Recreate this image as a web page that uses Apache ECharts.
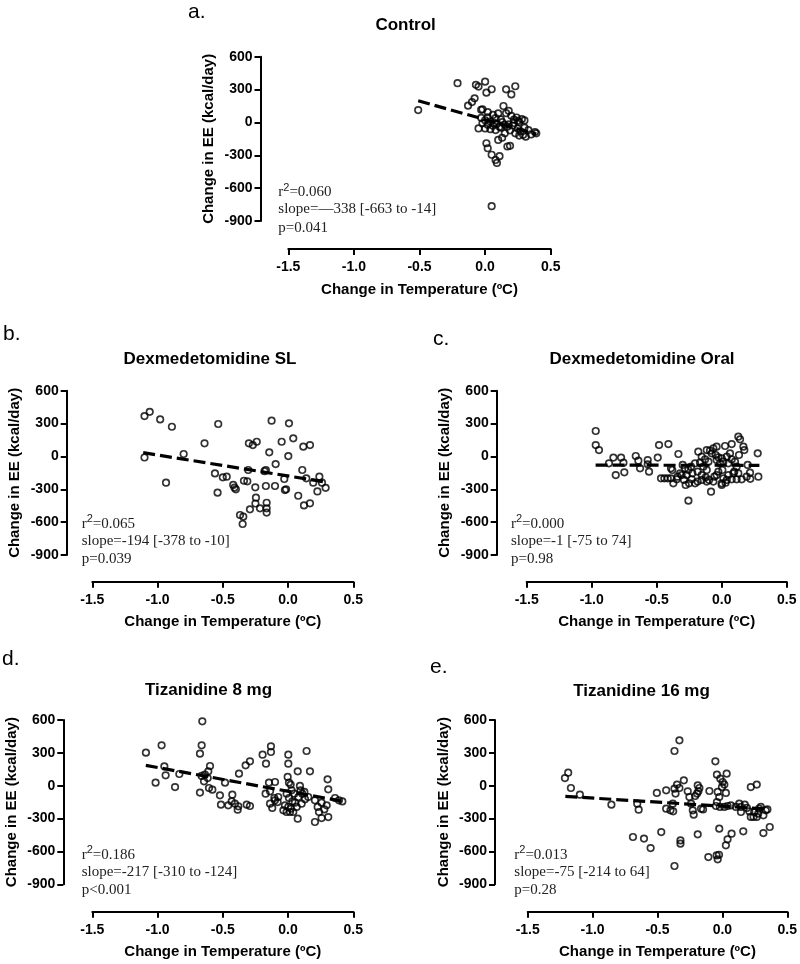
<!DOCTYPE html>
<html><head><meta charset="utf-8">
<script src="https://cdn.jsdelivr.net/npm/echarts@6/dist/echarts.min.js"></script>
<style>html,body{margin:0;padding:0;background:#fff}#c{width:800px;height:964px}</style>
</head><body><div id="c"></div>
<script>
// ---------- data ----------
const panelLetters = ['a.', 'b.', 'c.', 'd.', 'e.'];
const panelTitles = ['Control', 'Dexmedetomidine SL', 'Dexmedetomidine Oral', 'Tizanidine 8 mg', 'Tizanidine 16 mg'];
const xAxisTitle = 'Change in Temperature (ºC)';
const yAxisTitle = 'Change in EE (kcal/day)';
const xTickValues = [-1.5, -1.0, -0.5, 0.0, 0.5];
const yTickValues = [-900, -600, -300, 0, 300, 600];
const r2Values = ['0.060', '0.065', '0.000', '0.186', '0.013'];
const slopeTexts = ['slope=\u2014338 [-663 to -14]', 'slope=-194 [-378 to -10]', 'slope=-1 [-75 to 74]', 'slope=-217 [-310 to -124]', 'slope=-75 [-214 to 64]'];
const pTexts = ['p=0.041', 'p=0.039', 'p=0.98', 'p<0.001', 'p=0.28'];

const controlPts = [
[-0.51,113],[-0.21,358],[-0.07,343],[-0.05,327],[0.00,372],[0.01,272],[0.05,303],[0.16,302],[0.23,330],[0.20,256],
[-0.08,220],[-0.10,186],[-0.13,153],[-0.03,115],[-0.02,120],[0.14,150],[0.18,106],[0.02,94],[0.10,82],[0.20,60],
[0.24,45],[0.28,30],[0.30,18],[0.26,4],[0.22,-5],[0.06,68],[0.08,40],[0.12,28],[0.00,20],[-0.02,-8],
[0.02,-22],[0.04,8],[0.06,-30],[0.09,-14],[0.11,-40],[0.13,2],[0.15,-22],[-0.05,-55],[0.00,-55],[0.04,-62],
[0.08,-70],[0.12,-48],[0.17,-40],[0.19,-72],[0.21,-28],[0.25,-58],[0.27,-82],[0.29,-112],[0.31,-130],[0.30,-48],
[0.26,-120],[0.23,-100],[0.18,-18],[0.38,-88],[0.39,-100],[0.01,-190],[0.02,-236],[0.05,-295],[0.08,-343],[0.09,-370],
[0.11,-308],[0.10,-160],[0.13,-140],[0.17,-220],[0.19,-214],[0.05,-765],[-0.03,42],[0.02,46],[0.16,84],[0.25,15],
[0.33,-70],[0.07,-5],[0.15,-100],[0.35,-110],[0.22,25]
];
const dexSLPts = [
[-1.10,-10],[-1.10,368],[-1.06,407],[-0.98,338],[-0.89,271],[-0.80,22],[-0.935,-240],[-0.64,120],[-0.535,296],[-0.56,-155],
[-0.54,-331],[-0.50,-191],[-0.47,-185],[-0.42,-260],[-0.41,-285],[-0.40,-300],[-0.338,-222],[-0.312,-227],[-0.368,-535],[-0.343,-550],
[-0.348,-617],[-0.30,120],[-0.27,104],[-0.24,134],[-0.292,-483],[-0.251,-282],[-0.246,-377],[-0.25,-430],[-0.215,-474],[-0.305,-124],
[-0.17,-124],[-0.18,-135],[-0.17,-270],[-0.164,-423],[-0.164,-474],[-0.164,-513],[-0.126,326],[-0.10,-270],[-0.144,37],[-0.095,-70],
[-0.049,134],[0.007,302],[0.04,165],[0.002,3],[-0.029,-206],[-0.024,-307],[-0.015,-300],[0.078,-359],[0.109,-124],[0.117,89],
[0.168,104],[0.14,-200],[0.122,-447],[0.168,-428],[0.193,-240],[0.24,-185],[0.225,-320],[0.288,-287],[0.26,-240]
];
const dexOralPts = [
[-0.969,232],[-0.969,104],[-0.944,58],[-0.867,-63],[-0.833,-11],[-0.815,-170],[-0.774,-11],[-0.756,-57],[-0.749,-145],[-0.661,4],
[-0.641,-39],[-0.628,-109],[-0.569,-33],[-0.569,-72],[-0.559,-139],[-0.492,-11],[-0.482,104],[-0.41,113],[-0.467,-200],[-0.441,-200],
[-0.415,-200],[-0.39,-200],[-0.333,22],[-0.38,-124],[-0.339,-185],[-0.372,-246],[-0.308,-170],[-0.29,-215],[-0.269,-170],[-0.251,-246],
[-0.277,-261],[-0.231,-209],[-0.205,-246],[-0.256,-404],[-0.30,-78],[-0.236,-94],[-0.18,43],[-0.205,-63],[-0.167,-57],[-0.141,-94],
[-0.115,-124],[-0.185,-139],[-0.154,-170],[-0.123,-191],[-0.097,-215],[-0.064,-230],[-0.082,-322],[-0.115,58],[-0.09,52],[-0.064,74],
[-0.039,89],[0.026,95],[0.077,113],[-0.077,28],[-0.046,13],[-0.026,-8],[0.0,-17],[0.039,-2],[0.064,28],[-0.039,-33],
[-0.013,-63],[0.013,-48],[0.051,-63],[0.077,-27],[0.102,-48],[0.115,-94],[0.097,-139],[0.128,-154],[0.128,180],[0.141,156],
[0.167,89],[0.174,58],[0.133,13],[0.013,-200],[0.039,-215],[0.077,-209],[0.115,-209],[0.154,-209],[0.0,-246],[0.051,-170],
[0.09,-154],[0.2,-78],[0.218,-148],[0.192,-185],[0.277,28],[0.282,-185],[-0.154,-2],[-0.128,-27],[-0.102,-48],[-0.282,-109],
[-0.256,-124],[-0.226,-154],[-0.39,-109],[-0.346,-209],[-0.32,-154],[-0.154,-215],[-0.185,-230],[-0.115,-230],[-0.056,-185],[-0.026,-139],
[0.005,-124],[-0.039,-170],[0.0,-260],[0.03,-240],[0.22,-205]
];
const tiz8Pts = [
[-1.089,302],[-1.015,28],[-0.969,369],[-0.948,177],[-0.938,95],[-0.866,-12],[-0.833,107],[-0.657,588],[-0.662,369],[-0.675,293],
[-0.675,-63],[-0.598,180],[-0.611,131],[-0.637,101],[-0.616,70],[-0.662,89],[-0.644,40],[-0.606,-21],[-0.58,-36],[-0.522,-88],
[-0.514,-173],[-0.458,-179],[-0.432,-143],[-0.427,-82],[-0.407,-164],[-0.381,-188],[-0.386,-219],[-0.483,28],[-0.376,110],[-0.325,186],
[-0.292,223],[-0.317,-173],[-0.292,-185],[-0.195,283],[-0.169,201],[-0.131,360],[-0.131,308],[-0.146,28],[-0.1,34],[-0.172,-73],
[-0.138,-164],[-0.121,-203],[-0.1,-133],[-0.08,-149],[0.002,283],[0.002,201],[0.142,317],[0.168,131],[-0.003,80],[0.007,28],
[0.02,10],[0.074,131],[0.091,-2],[0.096,-42],[0.109,-73],[-0.011,-73],[0.007,-112],[0.033,-143],[0.053,-155],[0.079,-103],
[0.13,-124],[-0.036,-225],[-0.011,-240],[0.022,-210],[0.04,-240],[0.066,-194],[-0.024,-179],[0.074,-301],[0.206,-331],[0.257,-295],
[0.308,-286],[0.303,58],[0.308,-33],[0.206,-133],[0.257,-155],[0.296,-179],[0.36,-112],[0.39,-133],[0.416,-143],[0.227,-194],
[0.278,-216],[0.237,-240],[-0.138,-51],[-0.075,-103],[-0.105,-112],[0.027,-42],[0.125,-57],[0.155,-103],[0.048,-73],[0.104,-164],
[0.015,-240],[0.002,-194]
];
const tiz16Pts = [
[-1.188,119],[-1.213,70],[-1.167,-21],[-1.098,-82],[-0.855,-173],[-0.656,-164],[-0.645,-219],[-0.689,-468],[-0.604,-483],[-0.553,-569],
[-0.505,-66],[-0.471,-423],[-0.433,-42],[-0.369,317],[-0.331,414],[-0.369,-27],[-0.349,10],[-0.331,-21],[-0.297,49],[-0.361,-72],
[-0.382,-164],[-0.433,-210],[-0.4,-225],[-0.379,-234],[-0.323,-499],[-0.323,-529],[-0.369,-733],[-0.19,3],[-0.177,-21],[-0.185,-51],
[-0.195,-72],[-0.21,-94],[-0.254,-103],[-0.241,-164],[-0.228,-225],[-0.221,-264],[-0.164,-210],[-0.149,-216],[-0.19,-444],[-0.1,-48],
[-0.108,-651],[-0.054,223],[-0.042,101],[-0.036,-57],[-0.024,-103],[-0.042,-149],[-0.016,64],[0.002,34],[0.015,10],[-0.003,-12],
[0.033,110],[0.027,-66],[-0.044,-636],[-0.026,-630],[-0.036,-672],[-0.024,-392],[0.04,-489],[0.071,-438],[0.027,-544],[-0.049,-185],
[-0.019,-194],[0.015,-194],[0.04,-185],[0.066,-179],[0.13,-164],[0.143,-194],[0.173,-173],[0.189,-203],[0.207,-234],[0.219,-285],
[0.24,-285],[0.265,-285],[0.283,-210],[0.296,-194],[0.316,-270],[0.334,-225],[0.347,-216],[0.219,-12],[0.265,10],[0.161,-416],
[0.316,-432],[0.365,-377],[0.104,-194],[0.143,-240],[0.245,-240],[0.276,-255],[-0.267,-51]
];
// regression-line end points
const controlFitX = [-0.51, 0.39], controlFitY = [198, -106];
const dexSLFitX = [-1.11, 0.29], dexSLFitY = [34, -234];
const dexOralFitX = [-0.97, 0.29], dexOralFitY = [-80, -81];
const tiz8FitX = [-1.09, 0.41], tiz8FitY = [186, -140];
const tiz16FitX = [-1.21, 0.35], tiz16FitY = [-97, -213];

const allPts = [controlPts, dexSLPts, dexOralPts, tiz8Pts, tiz16Pts];
const allFitX = [controlFitX, dexSLFitX, dexOralFitX, tiz8FitX, tiz16FitX];
const allFitY = [controlFitY, dexSLFitY, dexOralFitY, tiz8FitY, tiz16FitY];

// ---------- layout ----------
const L = [
  {left:288.3, top:56.7, width:262.4, yAx:260.5, xAx:249.0, titleX:405.6, titleY:25.5, letX:188, letY:12, stX:278.3, stY:[191,209.5,228]},
  {left:92.3, top:390.7, width:261.0, yAx:66.7, xAx:581.7, titleX:210, titleY:359.5, letX:3, letY:334.5, stX:81.7, stY:[522.7,540.7,559.3]},
  {left:526.7, top:390.7, width:260.0, yAx:496.7, xAx:581.7, titleX:642, titleY:359.5, letX:433, letY:339, stX:511, stY:[522.7,540.7,559.3]},
  {left:92.3, top:720.0, width:261.0, yAx:63.3, xAx:911.7, titleX:208.5, titleY:690, letX:2, letY:659, stX:81.7, stY:[853.3,872.3,890.5]},
  {left:527.7, top:720.0, width:260.6, yAx:495.0, xAx:911.7, titleX:641.5, titleY:691, letX:430, letY:667, stX:514.3, stY:[853.3,872.3,890.5]}
];
const H = 164.3;
const SANS = 'Liberation Sans, Arial, sans-serif';
const SERIF = 'Liberation Serif, Times New Roman, serif';

const grids = [], xAxes = [], yAxes = [], series = [], graphics = [];
L.forEach((g, i) => {
  grids.push({left: g.left, top: g.top, width: g.width, height: H});
  xAxes.push({
    type: 'value', gridIndex: i, min: xTickValues[0], max: xTickValues[xTickValues.length-1], interval: 0.5,
    offset: g.xAx - (g.top + H),
    axisLine: {onZero: false, lineStyle: {color: '#000', width: 2}},
    axisTick: {length: 6, lineStyle: {color: '#000', width: 2}},
    axisLabel: {color: '#000', fontFamily: SANS, fontWeight: 'bold', fontSize: 14, margin: 11,
      formatter: v => v.toFixed(1)},
    splitLine: {show: false},
    name: xAxisTitle, nameLocation: 'middle', nameGap: 33,
    nameTextStyle: {color: '#000', fontFamily: SANS, fontWeight: 'bold', fontSize: 15}
  });
  yAxes.push({
    type: 'value', gridIndex: i, min: yTickValues[0], max: yTickValues[yTickValues.length-1], interval: 300,
    offset: g.left - g.yAx,
    axisLine: {onZero: false, lineStyle: {color: '#000', width: 2}},
    axisTick: {length: 6, lineStyle: {color: '#000', width: 2}},
    axisLabel: {color: '#000', fontFamily: SANS, fontWeight: 'bold', fontSize: 14, margin: 8},
    splitLine: {show: false},
    name: yAxisTitle, nameLocation: 'middle', nameGap: 44,
    nameTextStyle: {color: '#000', fontFamily: SANS, fontWeight: 'bold', fontSize: 15}
  });
  series.push({
    type: 'scatter', xAxisIndex: i, yAxisIndex: i, data: allPts[i],
    symbol: 'circle', symbolSize: 6.5,
    itemStyle: {color: 'rgba(0,0,0,0)', borderColor: '#000', borderWidth: 1.7},
    silent: true, z: 2
  });
  series.push({
    type: 'line', xAxisIndex: i, yAxisIndex: i,
    data: allFitX[i].map((x, k) => [x, allFitY[i][k]]),
    symbol: 'none', silent: true, z: 3,
    lineStyle: {color: '#000', width: 3.2, type: [12, 5]}
  });
  graphics.push({type: 'text', x: g.letX, y: g.letY, style: {text: panelLetters[i], fill: '#000',
    font: '21px ' + SANS, align: 'left', verticalAlign: 'middle'}});
  graphics.push({type: 'text', x: g.titleX, y: g.titleY, style: {text: panelTitles[i], fill: '#000',
    font: 'bold 17px ' + SANS, align: 'center', verticalAlign: 'middle'}});
  graphics.push({type: 'text', x: g.stX, y: g.stY[0], style: {
    text: '{a|r}{b|2}{c|=' + r2Values[i] + '}', align: 'left', verticalAlign: 'middle',
    rich: {
      a: {fill: '#222', fontFamily: SERIF, fontSize: 15, lineHeight: 18, verticalAlign: 'bottom'},
      b: {fill: '#222', fontFamily: SANS, fontSize: 11, lineHeight: 11, verticalAlign: 'top'},
      c: {fill: '#222', fontFamily: SERIF, fontSize: 15, lineHeight: 18, verticalAlign: 'bottom'}
    }}});
  graphics.push({type: 'text', x: g.stX, y: g.stY[1], style: {text: slopeTexts[i], fill: '#222',
    font: '15px ' + SERIF, align: 'left', verticalAlign: 'middle'}});
  graphics.push({type: 'text', x: g.stX, y: g.stY[2], style: {text: pTexts[i], fill: '#222',
    font: '15px ' + SERIF, align: 'left', verticalAlign: 'middle'}});
});

const chart = echarts.init(document.getElementById('c'), null, {renderer: 'canvas'});
chart.setOption({
  animation: false,
  backgroundColor: '#fff',
  grid: grids, xAxis: xAxes, yAxis: yAxes, series: series, graphic: graphics
});
</script></body></html>
